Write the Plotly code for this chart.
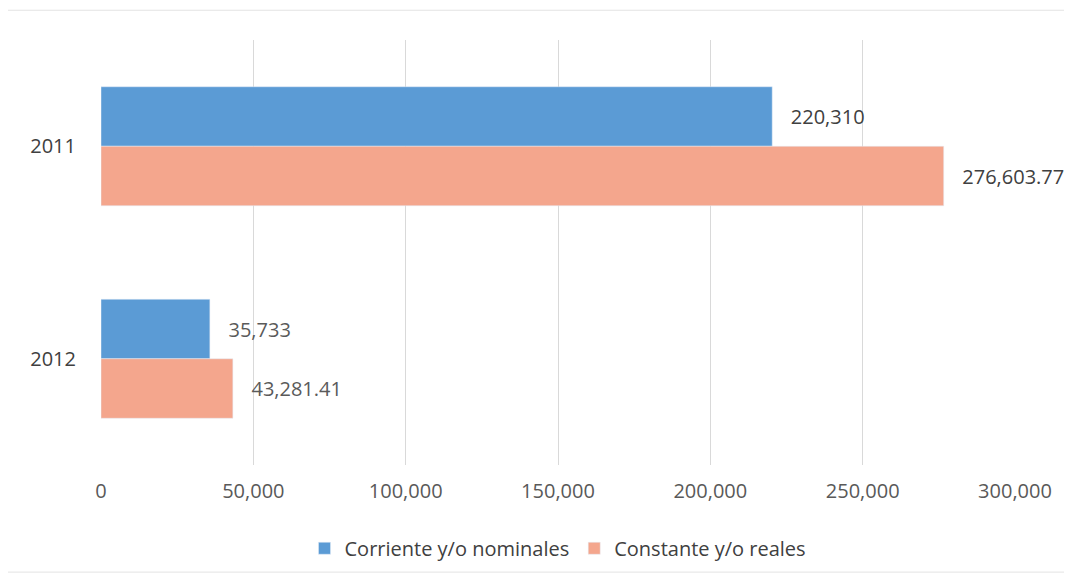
import plotly.graph_objects as go

# datos
anios = ["2011", "2012"]
corriente = [220310, 35733]
constante = [276603.77, 43281.41]
etiquetas_corriente = ["220,310", "35,733"]
etiquetas_constante = ["276,603.77", "43,281.41"]
ticks_x = [0, 50000, 100000, 150000, 200000, 250000, 300000]
ticks_x_txt = ["0", "50,000", "100,000", "150,000", "200,000", "250,000", "300,000"]

fuente = "Open Sans"
sep = "\u00a0\u00a0\u00a0"  # espacio entre barra y etiqueta
color_etiquetas = ["#404040", "#5A5A5A"]

fig = go.Figure()
fig.add_trace(go.Bar(
    y=anios, x=corriente, orientation="h", name="Corriente y/o nominales",
    marker_color="#5B9BD5", text=etiquetas_corriente, texttemplate=sep + "%{text}",
    textposition="outside", textfont=dict(color=color_etiquetas, size=20), cliponaxis=False,
))
fig.add_trace(go.Bar(
    y=anios, x=constante, orientation="h", name="Constante y/o reales",
    marker_color="#F4A68D", text=etiquetas_constante, texttemplate=sep + "%{text}",
    textposition="outside", textfont=dict(color=color_etiquetas, size=20), cliponaxis=False,
))

# la pagina tiene 8px de margen en el body, se compensa aqui
fig.update_layout(
    width=1072, height=575,
    barmode="group", bargap=0.44, bargroupgap=0,
    plot_bgcolor="white", paper_bgcolor="white",
    font=dict(family=fuente, size=20, color="#595959"),
    margin=dict(l=93, r=65, t=32, b=118, autoexpand=False),
    legend=dict(orientation="h", x=0.5, xanchor="center", y=-0.15, yanchor="top",
                font=dict(size=20, color="#404040"), itemwidth=30),
    showlegend=True,
)
fig.update_xaxes(range=[0, 300000], tickvals=ticks_x, ticktext=ticks_x_txt,
                 showgrid=True, gridcolor="#D9D9D9", gridwidth=1, zeroline=False,
                 showline=False, ticks="", ticklabelstandoff=12)
fig.update_yaxes(categoryorder="array", categoryarray=anios, autorange="reversed",
                 showgrid=False, zeroline=False, showline=False, ticks="",
                 tickfont=dict(color="#404040", size=20), ticklabelstandoff=24)

# borde del area del grafico
fig.add_shape(type="rect", xref="paper", yref="paper", x0=-0.103, x1=1.07, y0=-0.252, y1=1.07,
              line=dict(color="#E3E3E3", width=1), layer="below")

fig.write_html("out.html")
